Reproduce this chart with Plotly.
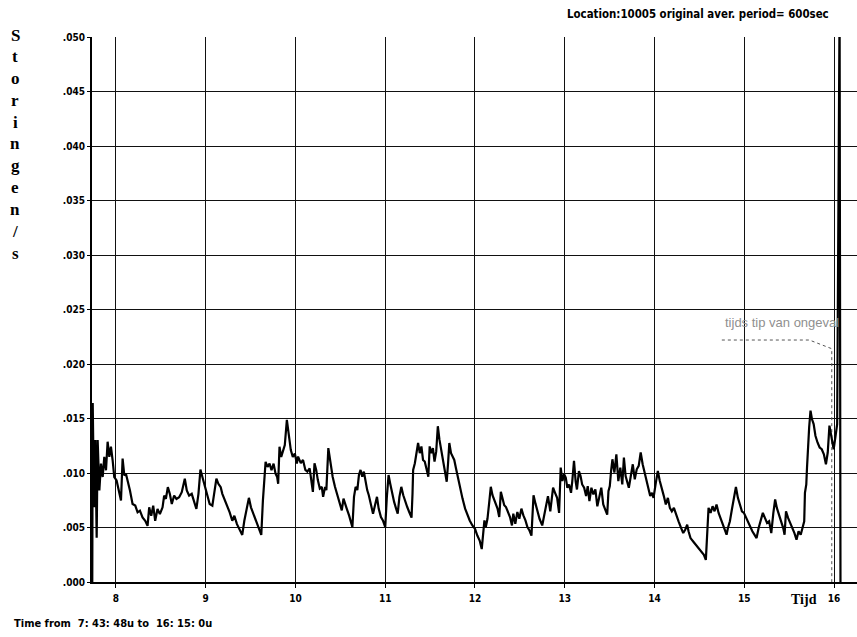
import plotly.graph_objects as go

# Time of day (hours) and disturbance rate (storingen per second)
hours = [
    7.736, 7.741, 7.756, 7.770, 7.785, 7.796, 7.815, 7.833, 7.852, 7.870, 7.889, 7.907, 7.926, 7.944,
    7.963, 7.981, 8.007, 8.030, 8.056, 8.074, 8.093, 8.111, 8.130, 8.156, 8.185, 8.215, 8.241, 8.267,
    8.296, 8.326, 8.352, 8.370, 8.393, 8.415, 8.437, 8.463, 8.489, 8.519, 8.537, 8.556, 8.578, 8.600,
    8.622, 8.648, 8.674, 8.704, 8.733, 8.767, 8.789, 8.815, 8.844, 8.870, 8.896, 8.919, 8.941, 8.963,
    8.993, 9.019, 9.044, 9.074, 9.096, 9.119, 9.141, 9.167, 9.185, 9.215, 9.241, 9.267, 9.296, 9.319,
    9.348, 9.378, 9.407, 9.430, 9.452, 9.481, 9.504, 9.533, 9.563, 9.593, 9.619, 9.637, 9.659, 9.667,
    9.689, 9.711, 9.733, 9.756, 9.778, 9.796, 9.807, 9.822, 9.841, 9.859, 9.881, 9.904, 9.926, 9.948,
    9.970, 9.993, 10.015,
    10.029, 10.059, 10.084, 10.110, 10.132, 10.158, 10.176, 10.194, 10.212, 10.231, 10.249, 10.271,
    10.293, 10.308, 10.330, 10.344, 10.366, 10.388, 10.414, 10.440, 10.469, 10.498, 10.516, 10.535,
    10.549, 10.571, 10.597, 10.615, 10.634, 10.652, 10.670, 10.689, 10.707, 10.725, 10.744, 10.762,
    10.780, 10.799, 10.817, 10.842, 10.864, 10.886, 10.908, 10.927, 10.952, 10.974, 11.000, 11.018,
    11.037, 11.055, 11.077, 11.099, 11.121, 11.139, 11.158, 11.179, 11.201, 11.223, 11.245, 11.267,
    11.293, 11.304, 11.311, 11.330, 11.348, 11.366, 11.385, 11.403, 11.421, 11.440, 11.458, 11.480,
    11.495, 11.513, 11.531, 11.549, 11.568, 11.586, 11.604, 11.623, 11.641, 11.659, 11.685, 11.700,
    11.714, 11.733, 11.751, 11.769, 11.788, 11.806, 11.832, 11.861, 11.890, 11.916, 11.941, 11.971,
    12.000, 12.026, 12.052, 12.075, 12.090, 12.105, 12.120, 12.139, 12.157, 12.176, 12.195, 12.213,
    12.232, 12.251, 12.270, 12.288, 12.307, 12.326, 12.345, 12.367, 12.390, 12.412, 12.427, 12.449,
    12.472, 12.494, 12.517, 12.539, 12.562, 12.584, 12.607, 12.629, 12.652, 12.674, 12.697, 12.719,
    12.749,
    12.787, 12.813, 12.839, 12.870, 12.892, 12.915, 12.937, 12.955, 12.974, 12.993, 13.011, 13.029,
    13.048, 13.070, 13.084, 13.103, 13.121, 13.136, 13.158, 13.176, 13.194, 13.216, 13.238, 13.256,
    13.275, 13.297, 13.319, 13.341, 13.363, 13.385, 13.407, 13.429, 13.451, 13.473, 13.487, 13.502,
    13.516, 13.531, 13.553, 13.575, 13.597, 13.619, 13.641, 13.659, 13.678, 13.696, 13.714, 13.736,
    13.758, 13.780, 13.802, 13.824, 13.846, 13.868, 13.890, 13.912, 13.934, 13.952, 13.971, 13.989,
    14.015, 14.037, 14.059, 14.082, 14.104, 14.126, 14.149, 14.171, 14.193, 14.216, 14.238, 14.268,
    14.297, 14.320, 14.342, 14.364, 14.379, 14.401, 14.431, 14.461, 14.491, 14.520, 14.550, 14.572,
    14.587, 14.602, 14.625, 14.647, 14.669, 14.691, 14.714, 14.736, 14.758, 14.781, 14.803, 14.818,
    14.840, 14.862, 14.885, 14.907, 14.929, 14.952, 14.974, 14.996, 15.020, 15.043, 15.066, 15.090,
    15.113, 15.137, 15.160, 15.184, 15.207, 15.230, 15.254, 15.277, 15.301, 15.324, 15.344, 15.363,
    15.387, 15.410, 15.434, 15.449, 15.465, 15.488, 15.512, 15.535, 15.559, 15.582, 15.605, 15.629,
    15.652, 15.668, 15.676, 15.691, 15.699, 15.707, 15.723, 15.738, 15.754, 15.773, 15.793, 15.816,
    15.840, 15.863, 15.887, 15.910, 15.930, 15.949, 15.973, 15.996, 16.020, 16.035, 16.062, 16.072,
]

rate = [
    0.00000, 0.01642, 0.00685, 0.01302, 0.00407, 0.01302, 0.00840, 0.01086, 0.00963, 0.01148, 0.01025,
    0.01287, 0.01148, 0.01241, 0.01117, 0.00963, 0.00932, 0.00840, 0.00747, 0.01133, 0.00978, 0.00994,
    0.00932, 0.00840, 0.00716, 0.00701, 0.00639, 0.00654, 0.00593, 0.00562, 0.00515, 0.00685, 0.00608,
    0.00701, 0.00562, 0.00670, 0.00623, 0.00685, 0.00793, 0.00762, 0.00870, 0.00809, 0.00716, 0.00793,
    0.00762, 0.00778, 0.00824, 0.00948, 0.00840, 0.00793, 0.00809, 0.00731, 0.00670, 0.00809, 0.01031,
    0.00963, 0.00870, 0.00793, 0.00716, 0.00701, 0.00840, 0.00948, 0.00901, 0.00870, 0.00809, 0.00747,
    0.00701, 0.00639, 0.00562, 0.00608, 0.00531, 0.00485, 0.00432, 0.00562, 0.00654, 0.00772, 0.00685,
    0.00623, 0.00546, 0.00500, 0.00432, 0.00747, 0.00963, 0.01102, 0.01056, 0.01086, 0.01025, 0.01086,
    0.00994, 0.00963, 0.00901, 0.01241, 0.01148, 0.01194, 0.01256, 0.01488, 0.01364, 0.01210, 0.01148,
    0.01179, 0.01086,
    0.01151, 0.01090, 0.01120, 0.01028, 0.01012, 0.01043, 0.00935, 0.00827, 0.01090, 0.01028, 0.00935,
    0.00858, 0.00873, 0.00781, 0.00873, 0.00843, 0.01228, 0.01090, 0.00966, 0.00873, 0.00796, 0.00704,
    0.00657, 0.00765, 0.00735, 0.00673, 0.00611, 0.00549, 0.00503, 0.00781, 0.00873, 0.00843, 0.00981,
    0.01028, 0.00966, 0.01012, 0.00920, 0.00843, 0.00796, 0.00719, 0.00627, 0.00704, 0.00781, 0.00673,
    0.00596, 0.00565, 0.00503, 0.00781, 0.00981, 0.00904, 0.00812, 0.00735, 0.00673, 0.00627, 0.00781,
    0.00873, 0.00796, 0.00735, 0.00688, 0.00642, 0.00590, 0.00812, 0.01028, 0.01090, 0.01198, 0.01275,
    0.01182, 0.01244, 0.01120, 0.01105, 0.01043, 0.00966, 0.01244, 0.01182, 0.01228, 0.01105, 0.01198,
    0.01429, 0.01306, 0.01213, 0.01120, 0.01043, 0.00920, 0.01090, 0.01275, 0.01182, 0.01151, 0.01120,
    0.01043, 0.00966, 0.00873, 0.00765, 0.00673, 0.00611, 0.00565, 0.00519, 0.00488, 0.00426, 0.00380,
    0.00302, 0.00441, 0.00565, 0.00503, 0.00580, 0.00719, 0.00873, 0.00796, 0.00750, 0.00704, 0.00673,
    0.00596, 0.00827, 0.00765, 0.00704, 0.00688, 0.00642, 0.00596, 0.00519, 0.00627, 0.00534, 0.00642,
    0.00580, 0.00673, 0.00611, 0.00565, 0.00503, 0.00472, 0.00426, 0.00796, 0.00719, 0.00642, 0.00580,
    0.00519,
    0.00680, 0.00788, 0.00649, 0.00865, 0.00818, 0.00772, 0.00634, 0.01049, 0.00926, 0.00988, 0.00957,
    0.00865, 0.00895, 0.00818, 0.00926, 0.01111, 0.00926, 0.00849, 0.01018, 0.00972, 0.00895, 0.00865,
    0.00788, 0.00880, 0.00742, 0.00865, 0.00803, 0.00849, 0.00695, 0.00788, 0.00865, 0.00711, 0.00665,
    0.00618, 0.00834, 0.00880, 0.01018, 0.01126, 0.01003, 0.01172, 0.00926, 0.01049, 0.00895, 0.01142,
    0.00972, 0.00926, 0.00865, 0.00972, 0.01080, 0.00942, 0.01034, 0.01065, 0.01188, 0.01080, 0.01003,
    0.00926, 0.00865, 0.00788, 0.00818, 0.00772, 0.00911, 0.01018, 0.00926, 0.00865, 0.00788, 0.00711,
    0.00772, 0.00680, 0.00649, 0.00680, 0.00618, 0.00557, 0.00495, 0.00449, 0.00480, 0.00526, 0.00465,
    0.00403, 0.00372, 0.00342, 0.00311, 0.00280, 0.00249, 0.00203, 0.00495, 0.00680, 0.00634, 0.00695,
    0.00649, 0.00711, 0.00634, 0.00588, 0.00526, 0.00480, 0.00434, 0.00495, 0.00557, 0.00665, 0.00757,
    0.00871, 0.00772, 0.00711, 0.00649, 0.00634, 0.00588, 0.00557, 0.00511, 0.00465, 0.00434, 0.00403,
    0.00495, 0.00557, 0.00634, 0.00588, 0.00542, 0.00557, 0.00449, 0.00634, 0.00757, 0.00680, 0.00618,
    0.00557, 0.00495, 0.00434, 0.00649, 0.00588, 0.00542, 0.00495, 0.00449, 0.00388, 0.00465, 0.00434,
    0.00495, 0.00557, 0.00818, 0.00895, 0.01049, 0.01203, 0.01418, 0.01572, 0.01495, 0.01449, 0.01342,
    0.01280, 0.01234, 0.01218, 0.01172, 0.01080, 0.01188, 0.01434, 0.01311, 0.01218, 0.01357, 0.01449,
    0.05300, 0.00000,
]

x_ticks = [8, 9, 10, 11, 12, 13, 14, 15, 16]
x_tick_text = ["8", "9", "10", "11", "12", "13", "14", "15", "16"]
y_ticks = [0.000, 0.005, 0.010, 0.015, 0.020, 0.025, 0.030, 0.035, 0.040, 0.045, 0.050]
y_tick_text = [".000", ".005", ".010", ".015", ".020", ".025", ".030", ".035", ".040", ".045", ".050"]

# Callout marking the moment of the accident
callout_t = [14.75, 15.725, 15.975, 15.975]
callout_v = [0.0222, 0.0222, 0.0214, 0.0]
callout_text = "tijds tip van ongeval"

y_title = "Storingen/s"
chart_title = "Location:10005 original aver. period= 600sec"
time_span = "Time from  7: 43: 48u to  16: 15: 0u"

W, H = 857, 637
L, R, T, B = 92, 0, 37, 55
PW, PH = W - L - R, H - T - B

NARROW = "Liberation Sans Narrow, DejaVu Sans Condensed, Arial Narrow, sans-serif"
SERIF = "Liberation Serif, Times New Roman, serif"


def px(xp):
    return (xp - L) / PW


def py(yp):
    return (H - B - yp) / PH


fig = go.Figure()

fig.add_trace(go.Scatter(
    x=callout_t, y=callout_v, mode="lines",
    line=dict(color="#555555", width=1, dash="dot"),
    hoverinfo="skip", showlegend=False,
))

fig.add_trace(go.Scatter(
    x=hours, y=rate, mode="lines",
    line=dict(color="black", width=2.2),
    hoverinfo="skip", showlegend=False,
))

annotations = [
    dict(text=callout_text, x=px(723), y=0.0238, xref="paper", yref="y",
         xanchor="left", yanchor="middle", showarrow=False,
         font=dict(family="Liberation Sans, Arial, sans-serif", size=13, color="#8f8f8f")),
    dict(text=chart_title, x=px(565), y=py(14), xref="paper", yref="paper",
         xanchor="left", yanchor="middle", showarrow=False,
         font=dict(family=NARROW, size=11.4, color="black", weight="bold")),
    dict(text=time_span, x=px(12), y=py(623), xref="paper", yref="paper",
         xanchor="left", yanchor="middle", showarrow=False,
         font=dict(family=NARROW, size=11, color="black", weight="bold")),
    dict(text="<b>Tijd</b>", x=px(789), y=py(599), xref="paper", yref="paper",
         xanchor="left", yanchor="middle", showarrow=False,
         font=dict(family=SERIF, size=14, color="black")),
]

# Vertical axis title written letter by letter, top to bottom
for i, ch in enumerate(y_title):
    annotations.append(dict(
        text=f"<b>{ch}</b>", x=px(15), y=py(35 + i * 21.8), xref="paper", yref="paper",
        xanchor="center", yanchor="middle", showarrow=False,
        font=dict(family=SERIF, size=17, color="black"),
    ))

tick_font = dict(family=NARROW, size=10, color="black", weight="bold")

fig.update_layout(
    width=W, height=H,
    margin=dict(l=L, r=R, t=T, b=B, pad=0),
    paper_bgcolor="white", plot_bgcolor="white",
    showlegend=False,
    annotations=annotations,
    xaxis=dict(
        range=[7.733, 16.256], tickvals=x_ticks, ticktext=x_tick_text,
        showgrid=True, gridcolor="#111111", gridwidth=1,
        showline=True, linecolor="black", linewidth=2,
        ticks="outside", ticklen=4, tickcolor="black", tickwidth=1,
        tickfont=tick_font, ticklabelstandoff=2,
        zeroline=False, fixedrange=True,
    ),
    yaxis=dict(
        range=[0, 0.050], tickvals=y_ticks, ticktext=y_tick_text,
        showgrid=True, gridcolor="#111111", gridwidth=1,
        showline=True, linecolor="black", linewidth=2,
        ticks="outside", ticklen=3, tickcolor="black", tickwidth=1,
        tickfont=tick_font, ticklabelstandoff=0,
        zeroline=False, fixedrange=True,
    ),
)

fig.write_html("out.html")
